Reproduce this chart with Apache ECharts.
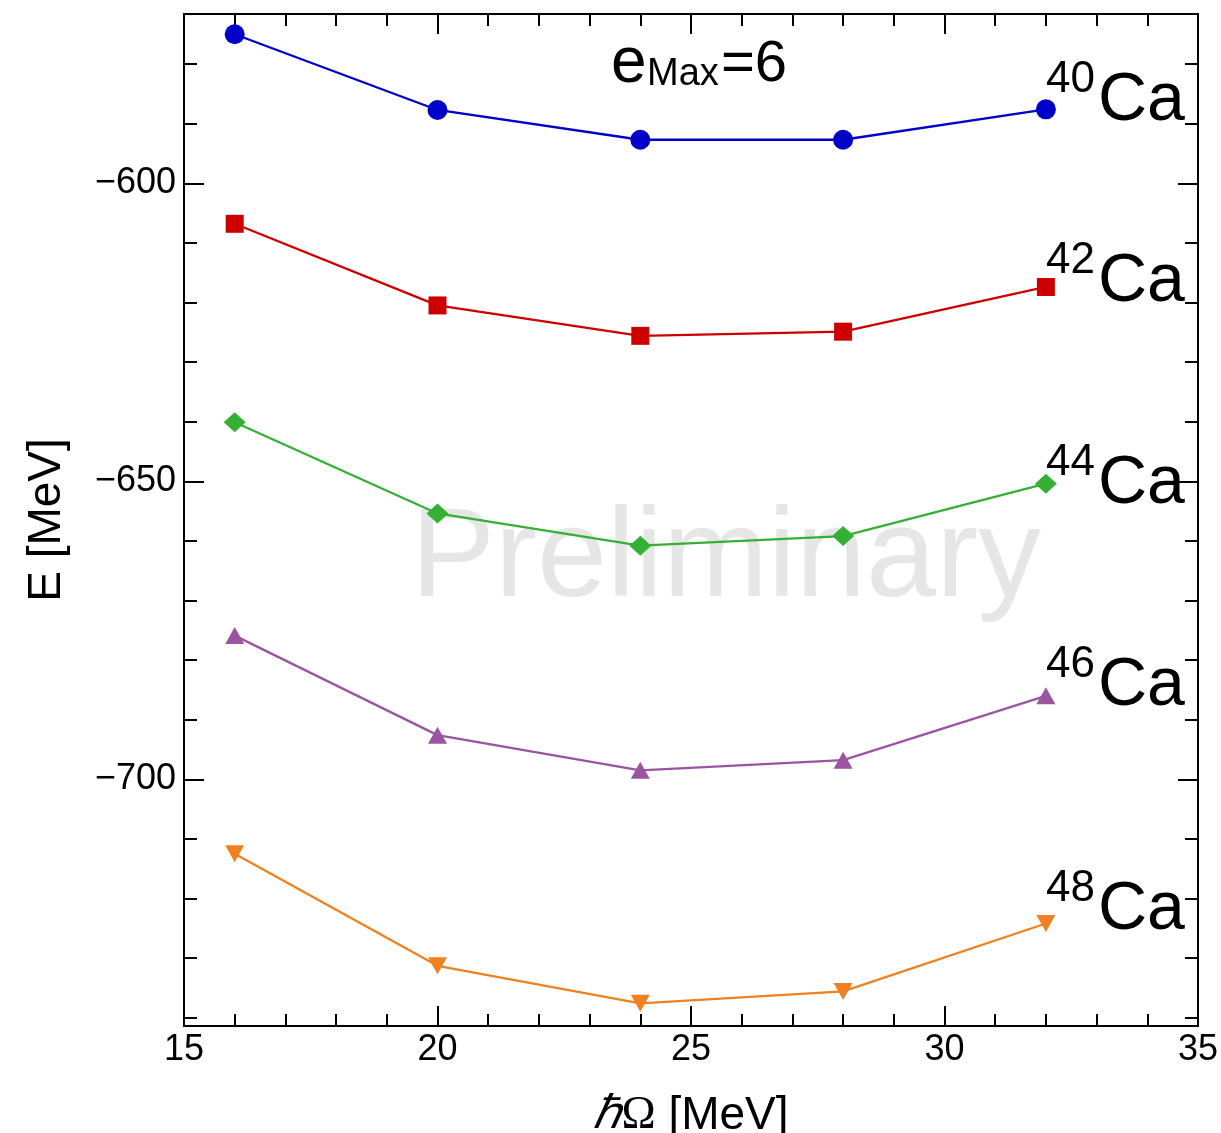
<!DOCTYPE html>
<html>
<head>
<meta charset="utf-8">
<script src="https://cdn.jsdelivr.net/npm/echarts@6/dist/echarts.min.js"></script>
<style>
  html, body { margin: 0; padding: 0; background: #fff; }
  #chart { width: 1221px; height: 1133px; }
</style>
</head>
<body>
<div id="chart"></div>
<script>
// hbar*Omega values [MeV]
const hw = [16, 20, 24, 28, 32];

// ground state energies [MeV], eMax = 6
const ca40 = [-575.0, -587.7, -592.7, -592.7, -587.6];
const ca42 = [-606.8, -620.5, -625.6, -624.9, -617.4];
const ca44 = [-640.1, -655.4, -660.8, -659.2, -650.4];
const ca46 = [-675.9, -692.6, -698.5, -696.8, -686.0];
const ca48 = [-712.5, -731.3, -737.6, -735.6, -724.2];

const isotopes = ['40', '42', '44', '46', '48'];

const FONT = 'Liberation Sans';
const minus = v => String(v).replace('-', '\u2212');
const pairs = ys => hw.map((x, i) => [x, ys[i]]);

const chart = echarts.init(document.getElementById('chart'));

// frame axes: bottom/left labelled, top/right only ticks
const xBase = {
  type: 'value', min: 15, max: 35, interval: 5,
  axisLine: { onZero: false, lineStyle: { color: '#000', width: 2 } },
  axisTick: { inside: true, length: 20, lineStyle: { color: '#000', width: 2 } },
  minorTick: { show: true, splitNumber: 5, length: 12, lineStyle: { color: '#000', width: 2 } },
  splitLine: { show: false }
};
const yBase = {
  type: 'value', min: -741.4, max: -571.6, splitNumber: 4,
  axisLine: { onZero: false, lineStyle: { color: '#000', width: 2 } },
  axisTick: { inside: true, length: 20, lineStyle: { color: '#000', width: 2 } },
  minorTick: { show: true, splitNumber: 5, length: 13, lineStyle: { color: '#000', width: 2 } },
  splitLine: { show: false }
};

function line(name, ys, color, symbol, size, rotate) {
  return {
    name: name, type: 'line', data: pairs(ys),
    symbol: symbol, symbolSize: size, symbolRotate: rotate || 0,
    showAllSymbol: true,
    itemStyle: { color: color },
    lineStyle: { color: color, width: 2.3 },
    z: 3
  };
}

// labels next to each curve (baseline of "Ca")
const caBase = [123, 304, 506, 708, 932];
const labels = [];
isotopes.forEach((a, i) => {
  labels.push({
    type: 'text', left: 1046, top: caBase[i] - 65, z: 10,
    style: { text: a, font: '44px "' + FONT + '"', fill: '#000' }
  });
  labels.push({
    type: 'text', left: 1098, top: caBase[i] - 56, z: 10,
    style: { text: 'Ca', font: '68px "' + FONT + '"', fill: '#000' }
  });
});

const option = {
  animation: false,
  backgroundColor: '#fff',
  grid: { left: 184, right: 23, top: 14, bottom: 107, containLabel: false, outerBoundsMode: 'none' },
  xAxis: [
    Object.assign({}, xBase, {
      position: 'bottom',
      name: '{h|\u210F}{o|\u03A9} [MeV]',
      nameLocation: 'middle', nameGap: 67, nameMoveOverlap: false,
      nameTextStyle: {
        fontFamily: FONT, fontSize: 46, color: '#000',
        rich: {
          h: { fontFamily: 'Liberation Serif', fontStyle: 'italic', fontSize: 46, color: '#000' },
          o: { fontFamily: 'Liberation Serif', fontSize: 46, color: '#000' }
        }
      },
      axisLabel: { fontFamily: FONT, fontSize: 36, color: '#000', margin: 6 }
    }),
    Object.assign({}, xBase, { position: 'top', axisLabel: { show: false } })
  ],
  yAxis: [
    Object.assign({}, yBase, {
      position: 'left',
      name: 'E [MeV]', nameLocation: 'middle', nameGap: 114, nameMoveOverlap: false,
      nameTextStyle: { fontFamily: FONT, fontSize: 46, color: '#000' },
      axisLabel: {
        fontFamily: FONT, fontSize: 36, color: '#000', margin: 8,
        showMinLabel: false, showMaxLabel: false, formatter: minus
      }
    }),
    Object.assign({}, yBase, { position: 'right', axisLabel: { show: false } })
  ],
  graphic: [
    {
      type: 'text', left: 411, top: 498, z: -10,
      style: { text: 'Preliminary', font: '126px "' + FONT + '"', fill: '#e6e6e6' }
    },
    { type: 'text', left: 611, top: 32, z: 10,
      style: { text: 'e', font: '64px "' + FONT + '"', fill: '#000' } },
    { type: 'text', left: 647, top: 56, z: 10,
      style: { text: 'Max', font: '38px "' + FONT + '"', fill: '#000' } },
    { type: 'text', left: 721, top: 36, z: 10,
      style: { text: '=6', font: '58px "' + FONT + '"', fill: '#000' } }
  ].concat(labels),
  series: [
    line('40Ca', ca40, '#0000c8', 'circle', 20),
    line('42Ca', ca42, '#cc0000', 'rect', 18),
    line('44Ca', ca44, '#35b035', 'diamond', [22, 20]),
    line('46Ca', ca46, '#9b55a0', 'triangle', [19, 17]),
    line('48Ca', ca48, '#f08020', 'triangle', [19, 17], 180)
  ]
};

chart.setOption(option);
</script>
</body>
</html>
